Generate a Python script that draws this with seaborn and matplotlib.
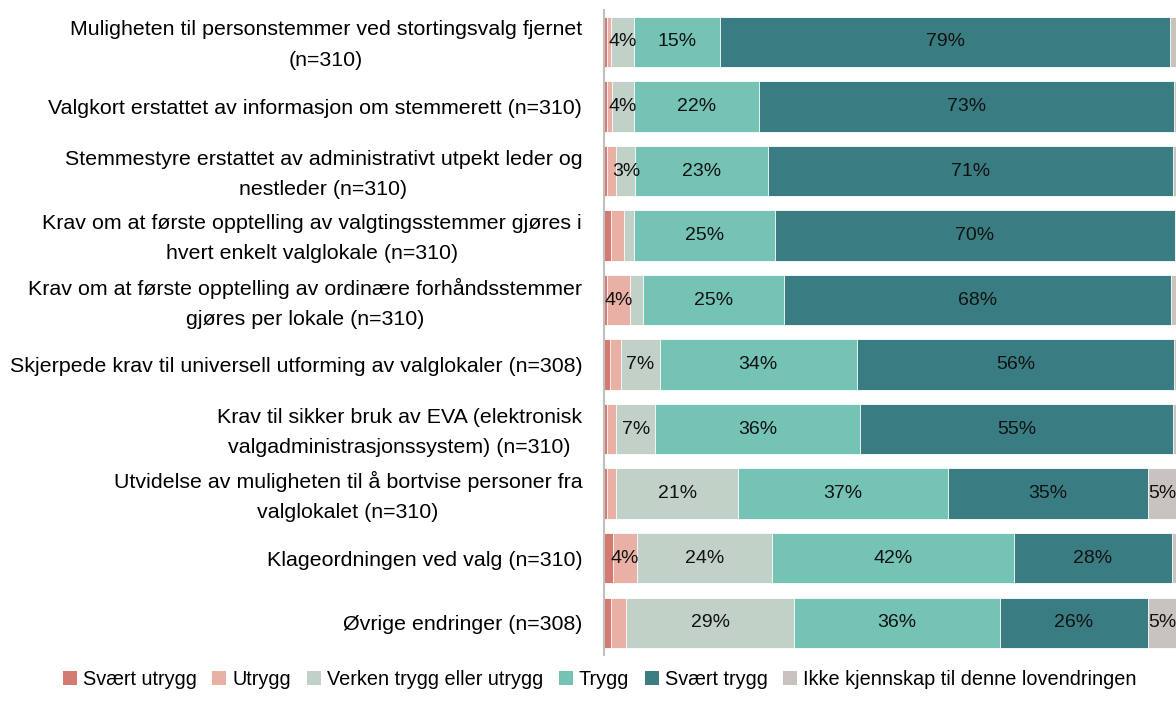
import numpy as np
import pandas as pd
import matplotlib.pyplot as plt
import matplotlib.transforms as mtransforms
import seaborn as sns
from matplotlib.patches import Patch

# Kategorier (rader)
kategorier = [
    "Muligheten til personstemmer ved stortingsvalg fjernet\n(n=310)",
    "Valgkort erstattet av informasjon om stemmerett (n=310)",
    "Stemmestyre erstattet av administrativt utpekt leder og\nnestleder (n=310)",
    "Krav om at første opptelling av valgtingsstemmer gjøres i\nhvert enkelt valglokale (n=310)",
    "Krav om at første opptelling av ordinære forhåndsstemmer\ngjøres per lokale (n=310)",
    "Skjerpede krav til universell utforming av valglokaler (n=308)",
    "Krav til sikker bruk av EVA (elektronisk\nvalgadministrasjonssystem) (n=310)",
    "Utvidelse av muligheten til å bortvise personer fra\nvalglokalet (n=310)",
    "Klageordningen ved valg (n=310)",
    "Øvrige endringer (n=308)",
]

serier = ["Svært utrygg", "Utrygg", "Verken trygg eller utrygg", "Trygg",
          "Svært trygg", "Ikke kjennskap til denne lovendringen"]

svaert_utrygg = [0.5, 0.5, 0.5, 1.2, 0.5, 0.9, 0.5, 0.5, 1.5, 1.2]
utrygg        = [0.7, 0.9, 1.6, 2.3, 3.9, 2.0, 1.6, 1.6, 4.2, 2.6]
verken        = [4.0, 3.7, 3.3, 1.7, 2.3, 6.8, 6.8, 21.3, 23.6, 29.4]
trygg         = [15.0, 21.9, 23.3, 24.6, 24.8, 34.4, 35.8, 36.7, 42.3, 36.0]
svaert_trygg  = [78.8, 72.7, 70.8, 70.0, 67.6, 55.6, 54.8, 35.0, 27.7, 25.9]
ikke          = [1.0, 0.3, 0.5, 0.2, 0.9, 0.3, 0.5, 4.9, 0.7, 4.9]

farger = ["#D47A70", "#E9B1A6", "#C2D1C8", "#74C3B4", "#397D83", "#C9C3BF"]

df = pd.DataFrame({
    "kategori": kategorier,
    serier[0]: svaert_utrygg,
    serier[1]: utrygg,
    serier[2]: verken,
    serier[3]: trygg,
    serier[4]: svaert_trygg,
    serier[5]: ikke,
})

plt.rcParams['font.family'] = ['Liberation Sans', 'DejaVu Sans']
fig = plt.figure(figsize=(11.76, 7.17), dpi=100)
ax = fig.add_axes([0.514, 0.0865, 0.486, 0.9])

# Stablede søyler: tegn kumulative summer bakfra
kum = df[serier].cumsum(axis=1)
for i in range(len(serier) - 1, -1, -1):
    sns.barplot(x=kum[serier[i]], y=df["kategori"], orient="h", color=farger[i],
                saturation=1, width=0.78, edgecolor="white", linewidth=0.6, ax=ax)

# Etiketter
for i in range(len(serier)):
    for j in range(len(df)):
        v = df[serier[i]].iloc[j]
        if v >= 3:
            x = kum[serier[i]].iloc[j] - v / 2
            ax.text(x, j, f"{round(v)}%", ha="center", va="center", fontsize=14, color="#111111")

ax.set_xlim(0, 100)
ax.set_ylim(9.5, -0.5)
ax.set_xlabel("")
ax.set_ylabel("")
ax.set_xticks([])
ax.tick_params(axis="y", length=0, pad=16, labelsize=15.4)
# flytt tolinjers etiketter litt opp
opp = mtransforms.ScaledTranslation(0, 4.5 / 100, fig.dpi_scale_trans)
for lab in ax.get_yticklabels():
    lab.set_linespacing(1.75)
    lab.set_multialignment("center")
    if "\n" in lab.get_text():
        lab.set_transform(lab.get_transform() + opp)
for s in ["top", "right", "bottom"]:
    ax.spines[s].set_visible(False)
ax.spines["left"].set_color("#BFBFBF")
ax.spines["left"].set_linewidth(1.5)

handles = [Patch(facecolor=farger[i], label=serier[i]) for i in range(len(serier))]
fig.legend(handles=handles, loc="lower center", bbox_to_anchor=(0.51, 0.014), ncol=6,
           frameon=False, handlelength=0.7, handleheight=0.7,
           handletextpad=0.3, columnspacing=0.8, fontsize=14.3)

plt.savefig("out.png", dpi=100)
